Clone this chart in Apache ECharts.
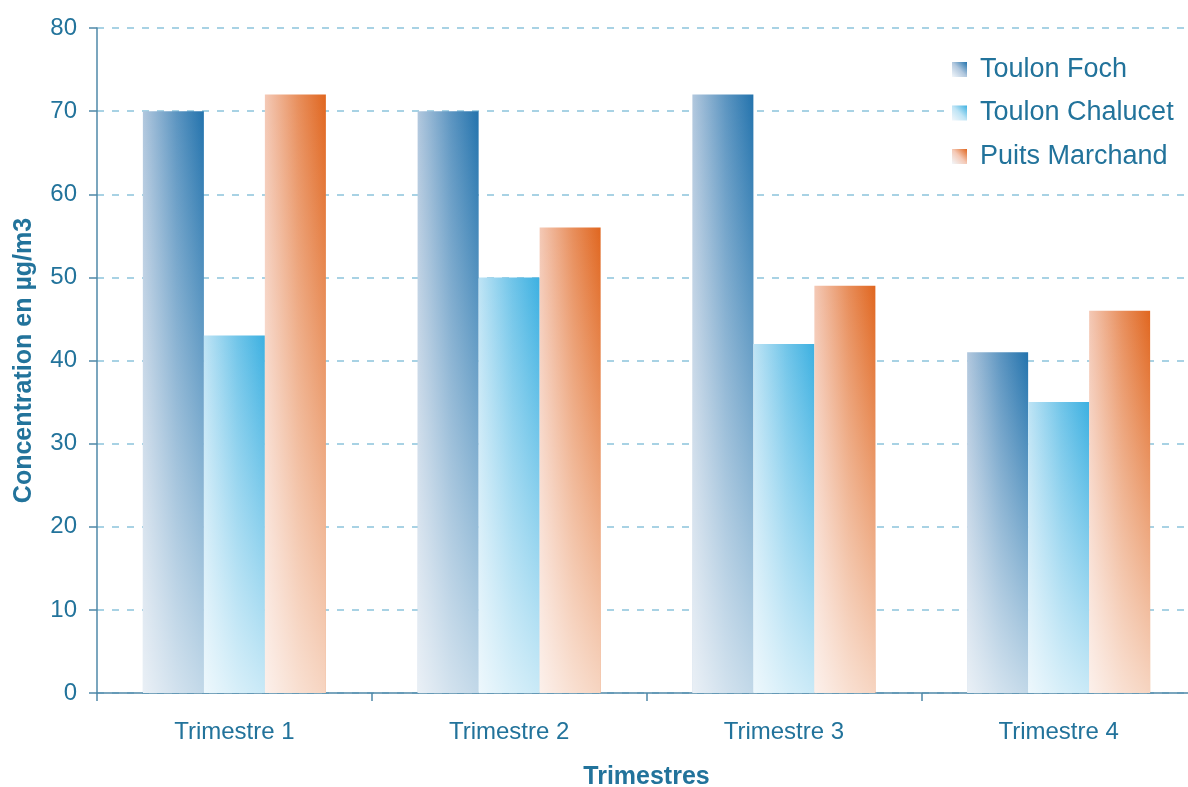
<!DOCTYPE html>
<html>
<head>
<meta charset="utf-8">
<script src="https://cdn.jsdelivr.net/npm/echarts@6/dist/echarts.min.js"></script>
<style>
  html, body { margin: 0; padding: 0; background: #ffffff; }
  #chart { width: 1188px; height: 787px; }
</style>
</head>
<body>
<div id="chart"></div>
<script>
// Quarterly concentrations (µg/m3) at three monitoring sites
const categories = ['Trimestre 1', 'Trimestre 2', 'Trimestre 3', 'Trimestre 4'];
const seriesNames = ['Toulon Foch', 'Toulon Chalucet', 'Puits Marchand'];
const toulonFoch = [70, 70, 72, 41];
const toulonChalucet = [43, 50, 42, 35];
const puitsMarchand = [72, 56, 49, 46];
const yTicks = { min: 0, max: 80, interval: 10 };

const textColor = '#22739b';
const axisColor = '#4f88a8';
const font = '"Liberation Sans", Arial, sans-serif';

// colour pairs: light (left edge) -> saturated (right edge)
const palette = [
  ['#b2c8de', '#2373ad'],
  ['#bfe4f5', '#3cb0e1'],
  ['#f4c9b6', '#e0661f']
];

function hGrad(c) {
  return new echarts.graphic.LinearGradient(0, 0, 1, 0, [
    { offset: 0, color: c[0] },
    { offset: 0.55, color: echarts.color.lerp(0.6, c) },
    { offset: 1, color: c[1] }
  ]);
}
function diagGrad(c) {
  return new echarts.graphic.LinearGradient(0, 1, 1, 0, [
    { offset: 0, color: '#f2f7fb' },
    { offset: 0.5, color: c[0] },
    { offset: 1, color: c[1] }
  ]);
}
// white fade toward the baseline, laid over each bar
const fade = new echarts.graphic.LinearGradient(0, 0, 0, 1, [
  { offset: 0, color: 'rgba(255,255,255,0)' },
  { offset: 1, color: 'rgba(255,255,255,0.72)' }
]);

const values = [toulonFoch, toulonChalucet, puitsMarchand];
const barW = 61;

const series = [];
values.forEach((v, i) => {
  series.push({
    name: seriesNames[i],
    type: 'bar',
    xAxisIndex: 0,
    data: v,
    barWidth: barW,
    barGap: '0%',
    itemStyle: { color: hGrad(palette[i]) },
    emphasis: { disabled: true }
  });
});
values.forEach((v, i) => {
  series.push({
    name: seriesNames[i] + ' ',
    type: 'bar',
    xAxisIndex: 1,
    data: v,
    barWidth: barW,
    barGap: '0%',
    silent: true,
    itemStyle: { color: fade },
    emphasis: { disabled: true },
    z: 3
  });
});

const chart = echarts.init(document.getElementById('chart'), null, { renderer: 'canvas' });
chart.setOption({
  backgroundColor: '#ffffff',
  animation: false,
  textStyle: { fontFamily: font },
  legend: {
    orient: 'vertical',
    left: 944,
    top: 50,
    padding: [6, 12, 6, 8],
    backgroundColor: '#ffffff',
    itemWidth: 15,
    itemHeight: 15,
    itemGap: 16.5,
    icon: 'rect',
    textStyle: { color: textColor, fontSize: 27, fontFamily: font, padding: [0, 0, 0, 8] },
    data: seriesNames.map((n, i) => ({ name: n, itemStyle: { color: diagGrad(palette[i]) } }))
  },
  grid: {
    left: 97, top: 28, width: 1099, height: 665,
    containLabel: false,
    outerBoundsMode: 'none'
  },
  xAxis: [
    {
      type: 'category',
      data: categories,
      name: 'Trimestres',
      nameLocation: 'middle',
      nameGap: 72,
      nameTextStyle: { color: textColor, fontSize: 25, fontWeight: 'bold', fontFamily: font },
      axisLine: { lineStyle: { color: axisColor, width: 1.5 } },
      axisTick: { show: true, length: 8, lineStyle: { color: axisColor, width: 1.5 } },
      axisLabel: { color: textColor, fontSize: 24, margin: 27, fontFamily: font },
      splitLine: { show: false }
    },
    {
      type: 'category',
      data: categories,
      show: false
    }
  ],
  yAxis: {
    type: 'value',
    min: yTicks.min,
    max: yTicks.max,
    interval: yTicks.interval,
    name: 'Concentration en µg/m3',
    nameLocation: 'middle',
    nameGap: 60,
    nameRotate: 90,
    nameTextStyle: { color: textColor, fontSize: 25, fontWeight: 'bold', fontFamily: font },
    axisLine: { show: true, lineStyle: { color: axisColor, width: 1.5 } },
    axisTick: { show: true, length: 8, lineStyle: { color: axisColor, width: 1.5 } },
    axisLabel: { color: textColor, fontSize: 24, margin: 20, fontFamily: font },
    splitLine: { show: true, lineStyle: { color: '#8cc3dc', width: 1.5, type: [7, 8] } }
  },
  series: series
});
</script>
</body>
</html>
